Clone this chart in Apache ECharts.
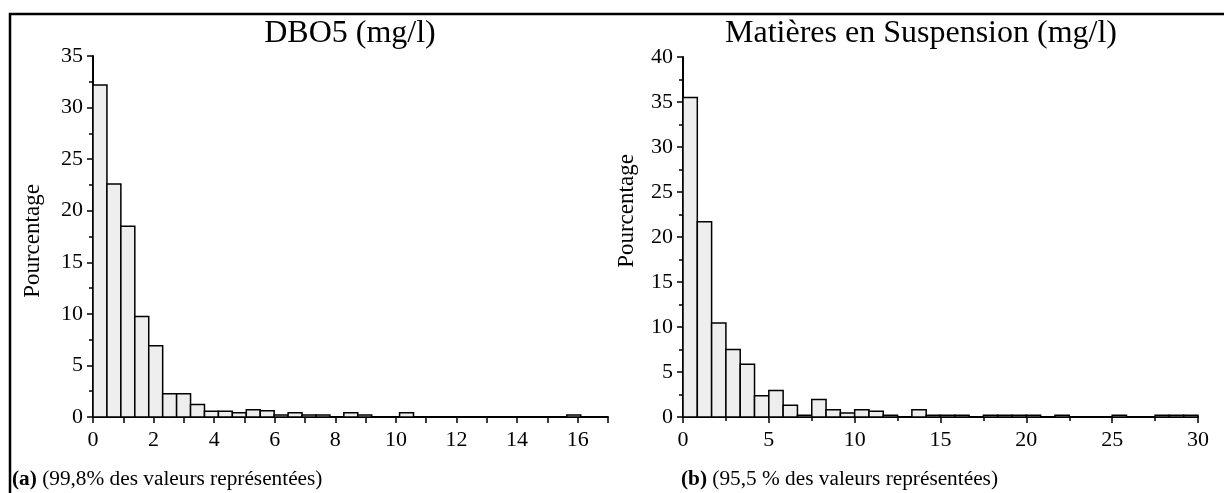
<!DOCTYPE html>
<html>
<head>
<meta charset="utf-8">
<script src="https://cdn.jsdelivr.net/npm/echarts@6/dist/echarts.min.js"></script>
<style>
html, body { margin: 0; padding: 0; background: #ffffff; }
#chart { width: 1224px; height: 493px; }
</style>
</head>
<body>
<div id="chart"></div>
<script>
// ---- Data ----
var dboTitle = 'DBO5 (mg/l)';
var mesTitle = 'Matières en Suspension (mg/l)';
var yName = 'Pourcentage';
var dboCaptionTag = '(a)';
var dboCaption = ' (99,8% des valeurs représentées)';
var mesCaptionTag = '(b)';
var mesCaption = ' (95,5 % des valeurs représentées)';

// Histogram (a): DBO5, bin width 0.46 mg/l starting at 0
var dboBinWidth = 0.46;
var dboValues = [32.2, 22.6, 18.5, 9.75, 6.9, 2.25, 2.25, 1.2, 0.55, 0.55,
                 0.4, 0.7, 0.6, 0.2, 0.4, 0.2, 0.2, 0, 0.4, 0.2,
                 0, 0, 0.4, 0, 0, 0, 0, 0, 0, 0,
                 0, 0, 0, 0, 0.2];
// Histogram (b): MES, bin width 30/36 mg/l starting at 0
var mesBinWidth = 30 / 36;
var mesValues = [35.5, 21.7, 10.45, 7.5, 5.85, 2.35, 2.95, 1.3, 0.2, 1.95,
                 0.8, 0.45, 0.8, 0.65, 0.2, 0, 0.8, 0.2, 0.2, 0.2,
                 0, 0.2, 0.2, 0.2, 0.2, 0, 0.2, 0, 0, 0,
                 0.2, 0, 0, 0.2, 0.2, 0.2];

// Axis ranges
var dboXMax = 17, dboYMax = 35;
var mesXMax = 30, mesYMax = 40;

function toBins(values, width) {
  return values.map(function (v, i) { return [i * width, (i + 1) * width, v]; });
}

var FONT = '"Liberation Serif", "Times New Roman", serif';

function renderItem(params, api) {
  var v = api.value(2);
  if (!v) return null;
  var p0 = api.coord([api.value(0), 0]);
  var p1 = api.coord([api.value(1), v]);
  return {
    type: 'rect',
    shape: { x: p0[0], y: p1[1], width: p1[0] - p0[0], height: p0[1] - p1[1] },
    style: { fill: '#eeeeee', stroke: '#000000', lineWidth: 1.5 }
  };
}

function xAxisCfg(gridIndex, max, interval, evenOnly) {
  return {
    type: 'value', gridIndex: gridIndex, min: 0, max: max, interval: interval,
    axisLine: { show: true, onZero: false, lineStyle: { color: '#000', width: 2 } },
    axisTick: { show: true, length: 6, lineStyle: { color: '#000', width: 1.5 } },
    minorTick: evenOnly ? { show: false } : { show: true, splitNumber: 2, length: 4, lineStyle: { color: '#000', width: 1.5 } },
    splitLine: { show: false },
    axisLabel: {
      margin: 12, color: '#000', fontSize: 22, fontFamily: FONT,
      formatter: function (v) { return evenOnly ? (v % 2 === 0 ? String(v) : '') : String(v); }
    }
  };
}
function yAxisCfg(gridIndex, max) {
  return {
    type: 'value', gridIndex: gridIndex, min: 0, max: max, interval: 5,
    axisLine: { show: true, onZero: false, lineStyle: { color: '#000', width: 2 } },
    axisTick: { show: true, length: 6, lineStyle: { color: '#000', width: 1.5 } },
    minorTick: { show: true, splitNumber: 2, length: 4, lineStyle: { color: '#000', width: 1.5 } },
    splitLine: { show: false },
    axisLabel: { margin: 10, color: '#000', fontSize: 22, fontFamily: FONT }
  };
}

var chart = echarts.init(document.getElementById('chart'), null, { renderer: 'canvas' });
var option = {
  animation: false,
  backgroundColor: '#ffffff',
  grid: [
    { left: 93, top: 56, width: 515, height: 361, containLabel: false, outerBoundsMode: 'none' },
    { left: 683, top: 57, width: 515, height: 360, containLabel: false, outerBoundsMode: 'none' }
  ],
  xAxis: [xAxisCfg(0, dboXMax, 1, true), xAxisCfg(1, mesXMax, 5, false)],
  yAxis: [yAxisCfg(0, dboYMax), yAxisCfg(1, mesYMax)],
  series: [
    { type: 'custom', xAxisIndex: 0, yAxisIndex: 0, renderItem: renderItem,
      encode: { x: [0, 1], y: 2 }, data: toBins(dboValues, dboBinWidth), z: 1 },
    { type: 'custom', xAxisIndex: 1, yAxisIndex: 1, renderItem: renderItem,
      encode: { x: [0, 1], y: 2 }, data: toBins(mesValues, mesBinWidth), z: 1 }
  ],
  graphic: [
    { type: 'rect', shape: { x: 10, y: 14, width: 1400, height: 700 },
      style: { fill: 'none', stroke: '#000', lineWidth: 2.5 }, silent: true, z: 0 },
    { type: 'text', x: 350, y: 34, style: { text: dboTitle, font: '32px ' + FONT, fill: '#000', textAlign: 'center', textVerticalAlign: 'middle' } },
    { type: 'text', x: 921, y: 34, style: { text: mesTitle, font: '32px ' + FONT, fill: '#000', textAlign: 'center', textVerticalAlign: 'middle' } },
    { type: 'text', x: 33, y: 241, rotation: Math.PI / 2, style: { text: yName, font: '23px ' + FONT, fill: '#000', textAlign: 'center', textVerticalAlign: 'middle' } },
    { type: 'text', x: 627, y: 211, rotation: Math.PI / 2, style: { text: yName, font: '23px ' + FONT, fill: '#000', textAlign: 'center', textVerticalAlign: 'middle' } },
    { type: 'text', x: 12, y: 479, style: {
        text: '{b|' + dboCaptionTag + '}' + dboCaption, font: '21.3px ' + FONT, fill: '#000', textAlign: 'left', textVerticalAlign: 'middle',
        rich: { b: { fontWeight: 'bold', fontSize: 21.3, fontFamily: FONT, fill: '#000' } } } },
    { type: 'text', x: 681, y: 479, style: {
        text: '{b|' + mesCaptionTag + '}' + mesCaption, font: '21.3px ' + FONT, fill: '#000', textAlign: 'left', textVerticalAlign: 'middle',
        rich: { b: { fontWeight: 'bold', fontSize: 21.3, fontFamily: FONT, fill: '#000' } } } }
  ]
};
chart.setOption(option);
</script>
</body>
</html>
